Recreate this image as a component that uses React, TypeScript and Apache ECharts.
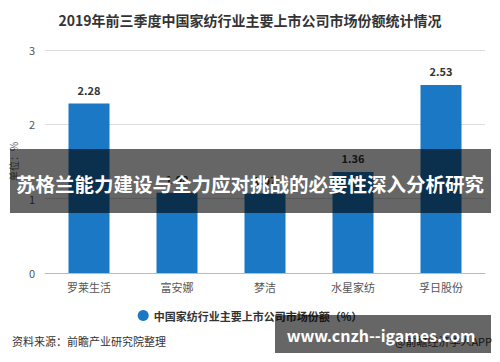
import React, { useEffect, useRef } from "react";
import * as echarts from "echarts";

const categories = ["罗莱生活", "富安娜", "梦洁", "水星家纺", "孚日股份"];
const shareValues = [2.28, 1.08, 1.07, 1.36, 2.53];
const yTicks = [0, 1, 2, 3];
const seriesName = "中国家纺行业主要上市公司市场份额（%）";
const titleText = "2019年前三季度中国家纺行业主要上市公司市场份额统计情况";
const overlayText = "苏格兰能力建设与全力应对挑战的必要性深入分析研究";
const siteText = "www.cnzh--igames.com";

export default function App() {
  const ref = useRef<HTMLDivElement>(null);
  useEffect(() => {
    if (!ref.current) return;
    const chart = echarts.init(ref.current, undefined, { renderer: "svg" });
    const font = "'Microsoft YaHei','Noto Sans CJK SC',sans-serif";
    chart.setOption({
      animation: false,
      textStyle: { fontFamily: font },
      title: {
        text: titleText,
        left: "center",
        top: 8,
        textStyle: { fontSize: 14, fontWeight: "bold", color: "#333", fontFamily: font },
      },
      grid: { left: 43, right: 15, top: 50, bottom: 89 },
      legend: {
        data: [seriesName],
        bottom: 36,
        left: "center",
        icon: "circle",
        itemWidth: 11,
        itemHeight: 11,
        textStyle: { fontSize: 11, color: "#333", fontWeight: "bold", fontFamily: font },
      },
      xAxis: {
        type: "category",
        data: categories,
        axisLine: { lineStyle: { color: "#bbb" } },
        axisTick: { alignWithLabel: true, lineStyle: { color: "#bbb" } },
        axisLabel: { color: "#555", fontSize: 11, margin: 8 },
      },
      yAxis: {
        type: "value",
        min: yTicks[0],
        max: yTicks[yTicks.length - 1],
        interval: 1,
        name: "单位：%",
        nameLocation: "middle",
        nameGap: 24,
        nameRotate: 90,
        nameTextStyle: { color: "#666", fontSize: 10 },
        axisLine: { show: false },
        axisTick: { show: false },
        axisLabel: { color: "#555", fontSize: 11, margin: 10 },
        splitLine: { lineStyle: { color: "#ddd" } },
      },
      series: [
        {
          name: seriesName,
          type: "bar",
          data: shareValues,
          barWidth: 41,
          itemStyle: { color: "#1a78c4" },
          label: {
            show: true,
            position: "top",
            distance: 8,
            color: "#333",
            fontSize: 11,
            fontWeight: "bold",
          },
        },
      ],
      graphic: [
        {
          type: "text",
          left: 12,
          top: 335,
          style: { text: "资料来源：前瞻产业研究院整理", fontSize: 11, fill: "#333", fontFamily: font },
        },
        {
          type: "text",
          right: 8,
          top: 335,
          style: { text: "@前瞻经济学人APP", fontSize: 11, fill: "#333", fontFamily: font },
        },
        {
          type: "rect",
          shape: { x: 10, y: 149, width: 481, height: 64 },
          style: { fill: "rgba(0,0,0,0.6)" },
          z: 100,
        },
        {
          type: "text",
          x: 250,
          y: 183,
          z: 101,
          style: {
            text: overlayText,
            fontSize: 19.5,
            fontWeight: "bold",
            fill: "#fff",
            align: "center",
            verticalAlign: "middle",
            fontFamily: font,
          },
        },
        {
          type: "rect",
          shape: { x: 275, y: 315, width: 216, height: 38 },
          style: { fill: "rgba(0,0,0,0.6)" },
          z: 100,
        },
        {
          type: "text",
          x: 381,
          y: 335,
          z: 101,
          style: {
            text: siteText,
            fontSize: 16,
            fontWeight: "bold",
            fill: "#fff",
            align: "center",
            verticalAlign: "middle",
            fontFamily: font,
          },
        },
      ],
    });
    return () => chart.dispose();
  }, []);
  return <div ref={ref} style={{ width: 500, height: 362, position: "absolute", left: 0, top: 0 }} />;
}
